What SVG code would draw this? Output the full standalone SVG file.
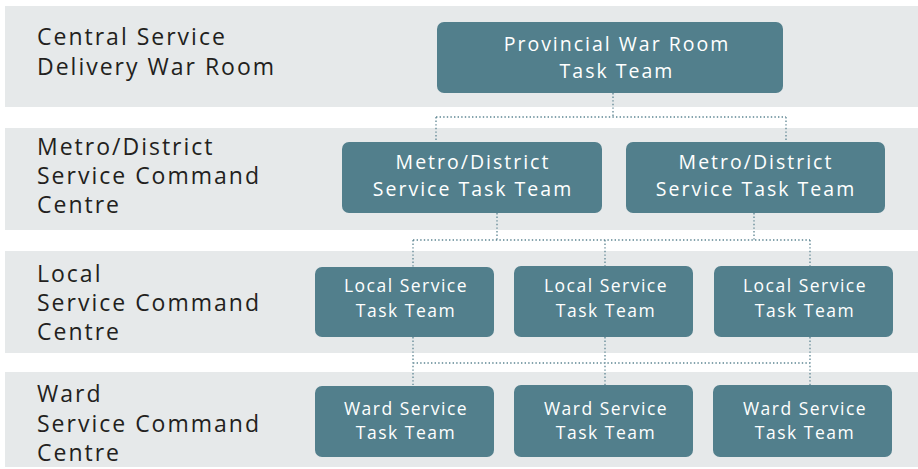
<svg xmlns="http://www.w3.org/2000/svg" width="918" height="469" viewBox="0 0 918 469">
<style>
.band{fill:#e6e9ea}
.box{fill:#527f8c}
.lbl{font-family:"Open Sans",Lato,sans-serif;font-size:23px;fill:#231f20;letter-spacing:2px}
.bt{font-family:"Open Sans",Lato,sans-serif;font-size:19.5px;fill:#ffffff;text-anchor:middle;letter-spacing:2px}
.bs{font-family:"Open Sans",Lato,sans-serif;font-size:17.5px;fill:#ffffff;text-anchor:middle;letter-spacing:1.5px}
.con{fill:none;stroke:#5d8592;stroke-width:1.3;stroke-dasharray:1.4 2.2}
</style>
<rect class="band" x="5" y="6" width="913" height="101"/>
<rect class="band" x="5" y="128" width="913" height="102"/>
<rect class="band" x="5" y="251" width="913" height="102"/>
<rect class="band" x="5" y="372" width="913" height="95"/>
<g id="level-labels">
<text class="lbl" x="37" y="45">Central Service</text>
<text class="lbl" x="37" y="75">Delivery War Room</text>
<text class="lbl" x="37" y="155">Metro/District</text>
<text class="lbl" x="37" y="184">Service Command</text>
<text class="lbl" x="37" y="213">Centre</text>
<text class="lbl" x="37" y="282">Local</text>
<text class="lbl" x="37" y="311">Service Command</text>
<text class="lbl" x="37" y="340">Centre</text>
<text class="lbl" x="37" y="402">Ward</text>
<text class="lbl" x="37" y="432">Service Command</text>
<text class="lbl" x="37" y="461">Centre</text>
</g>
<g id="connectors">
<path class="con" d="M613 93V117M436 117H786M436 117V142M786 117V142"/>
<path class="con" d="M497 213V240M754 213V240M413 240H810M413 240V267M605 240V266M810 240V266"/>
<path class="con" d="M413 337V385M605 337V385M810 337V385M413 363H810"/>
</g>
<g id="provincial">
<rect class="box" x="437" y="22" width="346" height="71" rx="7"/>
<text class="bt" x="617" y="51">Provincial War Room</text>
<text class="bt" x="617" y="78">Task Team</text>
</g>
<g id="metro-1">
<rect class="box" x="342" y="142" width="260" height="71" rx="7"/>
<text class="bt" x="473" y="169">Metro/District</text>
<text class="bt" x="473" y="196">Service Task Team</text>
</g>
<g id="metro-2">
<rect class="box" x="626" y="142" width="259" height="71" rx="7"/>
<text class="bt" x="756" y="169">Metro/District</text>
<text class="bt" x="756" y="196">Service Task Team</text>
</g>
<g id="local-1">
<rect class="box" x="315" y="267" width="179" height="70" rx="7"/>
<text class="bs" x="406" y="292">Local Service</text>
<text class="bs" x="406" y="317">Task Team</text>
</g>
<g id="local-2">
<rect class="box" x="514" y="266" width="179" height="71" rx="7"/>
<text class="bs" x="606" y="292">Local Service</text>
<text class="bs" x="606" y="317">Task Team</text>
</g>
<g id="local-3">
<rect class="box" x="714" y="266" width="179" height="71" rx="7"/>
<text class="bs" x="805" y="292">Local Service</text>
<text class="bs" x="805" y="317">Task Team</text>
</g>
<g id="ward-1">
<rect class="box" x="315" y="386" width="179" height="71" rx="7"/>
<text class="bs" x="406" y="415">Ward Service</text>
<text class="bs" x="406" y="439">Task Team</text>
</g>
<g id="ward-2">
<rect class="box" x="514" y="385" width="179" height="72" rx="7"/>
<text class="bs" x="606" y="415">Ward Service</text>
<text class="bs" x="606" y="439">Task Team</text>
</g>
<g id="ward-3">
<rect class="box" x="713" y="385" width="179" height="72" rx="7"/>
<text class="bs" x="805" y="415">Ward Service</text>
<text class="bs" x="805" y="439">Task Team</text>
</g>
</svg>
